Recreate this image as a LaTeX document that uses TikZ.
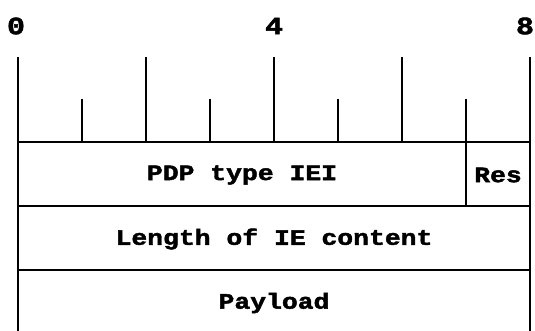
\documentclass[tikz,border=0pt]{standalone}
\usepackage{fontspec}
\newfontfamily\bitfont[FakeStretch=1.2,FakeBold=2]{Liberation Mono}
\begin{document}
\begin{tikzpicture}[x=1pt,y=-1pt,line width=1.4pt,
    fieldtext/.style={font=\bitfont\bfseries\fontsize{22}{22}\selectfont},
    bitnum/.style={font=\bitfont\bfseries\fontsize{25}{25}\selectfont}]
  \useasboundingbox (0,0) rectangle (535,331);
  % bit numbers
  \node[bitnum] (n0) at (16,26) {0};
  \node[bitnum] (n4) at (274,26) {4};
  \node[bitnum] (n8) at (525,26) {8};
  % ruler
  \draw (18,57) -- (18,331);
  \draw (530,57) -- (530,331);
  \draw (146,57) -- (146,142);
  \draw (274,57) -- (274,142);
  \draw (402,57) -- (402,142);
  \draw (82,99) -- (82,142);
  \draw (210,99) -- (210,142);
  \draw (338,99) -- (338,142);
  \draw (466,99) -- (466,206);
  % rows
  \draw (18,142) -- (530,142);
  \draw (18,206) -- (530,206);
  \draw (18,270) -- (530,270);
  % fields
  \node[fieldtext] (pdp) at (242,175) {PDP type IEI};
  \node[fieldtext] (res) at (498,175) {Res};
  \node[fieldtext] (len) at (274,239) {Length of IE content};
  \node[fieldtext] (payload) at (274,303) {Payload};
\end{tikzpicture}
\end{document}
